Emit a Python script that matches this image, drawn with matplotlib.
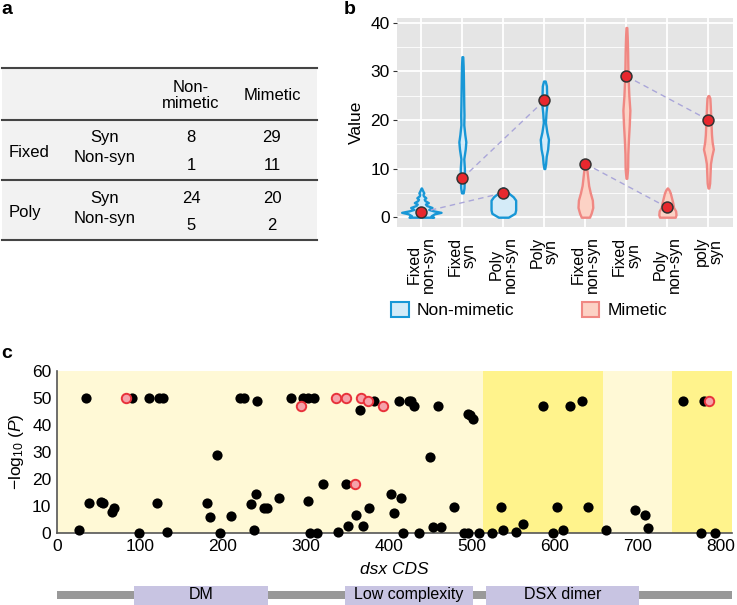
import numpy as np
import matplotlib.pyplot as plt
from matplotlib.patches import Patch, Rectangle

plt.rcParams['font.family'] = ['Liberation Sans', 'DejaVu Sans']
plt.rcParams['font.size'] = 12
plt.rcParams['mathtext.fontset'] = 'custom'
plt.rcParams['mathtext.rm'] = 'Liberation Sans'
plt.rcParams['mathtext.it'] = 'Liberation Sans:italic'

# --- panel a: counts table
groups = ["Fixed", "Poly"]
site_types = ["Syn", "Non-syn"]
col_names = ["Non-\nmimetic", "Mimetic"]
non_mimetic = [8, 1, 24, 5]
mimetic = [29, 11, 20, 2]

# --- panel b: violins
cat_labels = ["Fixed\nnon-syn", "Fixed\nsyn", "Poly\nnon-syn", "Poly\nsyn",
              "Fixed\nnon-syn", "Fixed\nsyn", "Poly\nnon-syn", "poly\nsyn"]
cat_group = ["Non-mimetic"] * 4 + ["Mimetic"] * 4
observed = [1, 8, 5, 24, 11, 29, 2, 20]
# violin outlines: values and half widths
violin_y = [
    [0, 0.3, 0.7, 1.0, 1.3, 1.6, 2.0, 2.4, 2.7, 3.0, 3.4, 3.7, 4.0, 4.4, 4.7, 5.0, 5.5, 6.0],
    [5, 6, 8, 10, 12, 14, 15.5, 17, 19, 21, 23, 26, 29, 31, 33],
    [0, 0.8, 1.5, 3.5, 4.2, 5.0, 6.0],
    [10, 11, 12.5, 14, 16, 17.5, 19.5, 21.5, 23.5, 25.5, 27, 28],
    [0, 0.8, 2, 3.5, 5, 6.5, 8, 9.5, 10.5, 11],
    [8, 10, 13, 16, 19, 22, 25, 28, 31, 34, 37, 39],
    [0, 0.5, 1.3, 2, 3, 4, 5, 5.6, 6],
    [6, 7, 9, 11, 12.5, 14, 15.5, 17, 19, 21, 23, 24.5, 25],
]
violin_w = [
    [0.30, 0.24, 0.32, 0.48, 0.30, 0.18, 0.26, 0.13, 0.10, 0.17, 0.09, 0.07, 0.11, 0.05, 0.04, 0.06, 0.03, 0.005],
    [0.02, 0.04, 0.05, 0.05, 0.035, 0.07, 0.085, 0.06, 0.035, 0.04, 0.035, 0.03, 0.025, 0.02, 0.01],
    [0.12, 0.28, 0.30, 0.30, 0.24, 0.12, 0.02],
    [0.01, 0.03, 0.045, 0.08, 0.10, 0.06, 0.025, 0.04, 0.065, 0.055, 0.05, 0.02],
    [0.10, 0.14, 0.18, 0.17, 0.12, 0.08, 0.06, 0.04, 0.015, 0.003],
    [0.01, 0.03, 0.035, 0.05, 0.07, 0.085, 0.06, 0.045, 0.035, 0.03, 0.02, 0.01],
    [0.19, 0.21, 0.20, 0.15, 0.13, 0.10, 0.07, 0.04, 0.005],
    [0.01, 0.03, 0.04, 0.05, 0.08, 0.12, 0.09, 0.075, 0.065, 0.055, 0.045, 0.035, 0.01],
]
links = [(0, 2), (1, 3), (4, 6), (5, 7)]

# --- panel c: sites along dsx CDS
site_x = [35, 90, 111, 123, 128, 193, 39, 53, 56, 69, 66, 120, 181, 184, 27, 99, 132, 196, 210,
          220, 225, 241, 282, 297, 302, 310, 365, 382, 412, 321, 348, 240, 234, 249, 253, 268,
          302, 376, 360, 351, 369, 339, 238, 305, 313, 403, 406, 415,
          424, 427, 430, 459, 495, 498, 501, 450, 478, 535, 603, 586, 618, 633, 453, 463, 417,
          436, 490, 495, 508, 524, 537, 553, 562, 598, 610, 640, 662, 697, 709, 712, 754, 780,
          776, 793]
site_logp = [50, 50, 50, 50, 50, 29, 11, 11.7, 11, 9.4, 7.7, 11, 11.3, 5.9, 1.1, 0, 0.5, 0.2, 6.4,
             50, 50, 48.7, 50, 50, 50, 50, 45.4, 48.7, 48.7, 18.3, 18.3, 14.6, 10.9, 9.4, 9.4, 12.9,
             11.8, 9.4, 6.9, 2.7, 2.7, 0.6, 1.1, 0.2, 0.2, 14.6, 7.5, 13.1,
             48.9, 48.7, 47.1, 47.1, 44, 43.6, 42.3, 28.2, 9.6, 9.6, 9.6, 47.1, 47.1, 48.7, 2.3, 2.3, 0.2,
             0.2, 0.2, 0.2, 0.2, 0.2, 1.1, 0.5, 3.4, 0.2, 1.1, 9.6, 1.1, 8.7, 6.8, 2.0, 48.7, 48.7,
             0.2, 0.2]
hit_x = [83, 294, 336, 348, 366, 375, 393, 359, 786]
hit_logp = [50, 47, 50, 50, 50, 48.7, 47.1, 18.3, 48.7]
cds_len = 813
shade_start = [513, 741]
shade_end = [658, 813]
domains = ["DM", "Low complexity", "DSX dimer"]
domain_start = [93, 347, 517]
domain_end = [254, 501, 701]

blue, blue_fill = '#1897d6', '#d4ebf8'
red, red_fill = '#f08883', '#fcd2c5'

fig = plt.figure(figsize=(7.37, 6.05), dpi=100)

# overlay in pixel units for the table and panel letters
ov = fig.add_axes([0, 0, 1, 1], zorder=-1)
ov.set_xlim(0, 737)
ov.set_ylim(605, 0)
ov.axis('off')
ov.add_patch(Rectangle((2, 68), 315, 172, facecolor='#f2f2f2', edgecolor='none'))
for yl in [68, 119.5, 180, 239.5]:
    ov.plot([2, 317], [yl, yl], color='#444444', lw=1.5)
col_x = [191, 272]
ov.text(col_x[0], 95.5, col_names[0], ha='center', va='center', linespacing=1.0)
ov.text(col_x[1], 95.5, col_names[1], ha='center', va='center')
label_y = [[137.7, 157.3], [198.3, 218.3]]
num_y = [[137.7, 165.7], [198.3, 225]]
group_y = [152.7, 212.7]
for g in range(2):
    ov.text(9, group_y[g], groups[g], ha='left', va='center')
    for s in range(2):
        k = g * 2 + s
        ov.text(105, label_y[g][s], site_types[s], ha='center', va='center')
        ov.text(col_x[0], num_y[g][s], str(non_mimetic[k]), ha='center', va='center')
        ov.text(col_x[1], num_y[g][s], str(mimetic[k]), ha='center', va='center')
for lab, (lx, ly) in zip("abc", [(1, 10), (344, 10), (1, 354)]):
    ov.text(lx, ly, lab, ha='left', va='center', fontsize=14, fontweight='bold')

# panel b
axb = fig.add_axes([0.5383, 0.6253, 0.4563, 0.3449])
axb.set_facecolor('#e5e5e5')
for sp in axb.spines.values():
    sp.set_visible(False)
pos = np.arange(1, 9)
axb.set_xlim(0.4, 8.6)
axb.set_ylim(-1.95, 40.95)
axb.set_yticks([0, 10, 20, 30, 40])
axb.set_yticks([5, 15, 25, 35], minor=True)
axb.set_xticks(pos)
axb.set_xticklabels(cat_labels, rotation=90, ha='center', va='top',
                    multialignment='center', fontsize=11.5, linespacing=0.95)
axb.grid(which='major', color='white', lw=1.3)
axb.grid(which='minor', axis='y', color='white', lw=0.6)
axb.set_axisbelow(True)
axb.tick_params(axis='x', length=0, pad=7)
axb.tick_params(axis='y', which='major', length=3, color='#333333', pad=2, labelsize=12.5)
axb.tick_params(axis='y', which='minor', length=0)
axb.set_ylabel('Value', fontsize=12.5, labelpad=5)
for i in range(8):
    vy = np.array(violin_y[i])
    vw = np.array(violin_w[i])
    if cat_group[i] == "Non-mimetic":
        ec, fc = blue, blue_fill
    else:
        ec, fc = red, red_fill
    axb.fill_betweenx(vy, pos[i] - vw, pos[i] + vw, facecolor=fc, edgecolor=ec,
                      lw=1.7, zorder=2)
for a, b in links:
    axb.plot([pos[a], pos[b]], [observed[a], observed[b]], color='#aaa6d9',
             lw=1.0, dashes=(4, 3), zorder=3)
axb.scatter(pos, observed, s=62, color='#e8282e', edgecolor='#333333', lw=1.1, zorder=4)

fig.legend(handles=[Patch(facecolor=blue_fill, edgecolor=blue, lw=1.5, label='Non-mimetic'),
                    Patch(facecolor=red_fill, edgecolor=red, lw=1.5, label='Mimetic')],
           loc='center', bbox_to_anchor=(0.718, 0.4876), ncol=2, frameon=False,
           handlelength=1.0, handleheight=1.0, handletextpad=0.45, columnspacing=3.9,
           fontsize=12.5)

# panel c
axc = fig.add_axes([0.0773, 0.1185, 0.9155, 0.2688])
axc.set_xlim(0, cds_len)
axc.set_ylim(0, 60)
axc.set_facecolor('#fff9d6')
for s0, s1 in zip(shade_start, shade_end):
    axc.axvspan(s0, s1, color='#fff38c', lw=0, zorder=0)
for sp in ['top', 'right']:
    axc.spines[sp].set_visible(False)
for sp in ['left', 'bottom']:
    axc.spines[sp].set_color('#555555')
    axc.spines[sp].set_linewidth(1.2)
axc.set_xticks(np.arange(0, 801, 100))
axc.set_yticks(np.arange(0, 61, 10))
axc.tick_params(length=0, pad=4, labelsize=12.5)
axc.scatter(site_x, site_logp, s=54, color='black', lw=0, zorder=3, clip_on=False)
axc.scatter(hit_x, hit_logp, s=46, facecolor='#f5a2aa', edgecolor='#e8323b', lw=1.4,
            zorder=4, clip_on=False)
axc.set_xlabel('dsx CDS', style='italic', fontsize=12.5, labelpad=6)
axc.set_ylabel('−log$_{10}$ ($\\mathit{P}$)', fontsize=12.5, labelpad=4)

# domain bar
axd = fig.add_axes([0.0773, 0, 0.9155, 21 / 605])
axd.set_xlim(0, cds_len)
axd.set_ylim(0, 1)
axd.axis('off')
axd.add_patch(Rectangle((0, 0.29), cds_len, 0.38, facecolor='#999999', edgecolor='none'))
for name, d0, d1 in zip(domains, domain_start, domain_end):
    axd.add_patch(Rectangle((d0, 0), d1 - d0, 0.9, facecolor='#c8c4e2', edgecolor='none'))
    axd.text((d0 + d1) / 2, 0.48, name, ha='center', va='center', fontsize=11.5)

fig.savefig('out.png', dpi=100)
